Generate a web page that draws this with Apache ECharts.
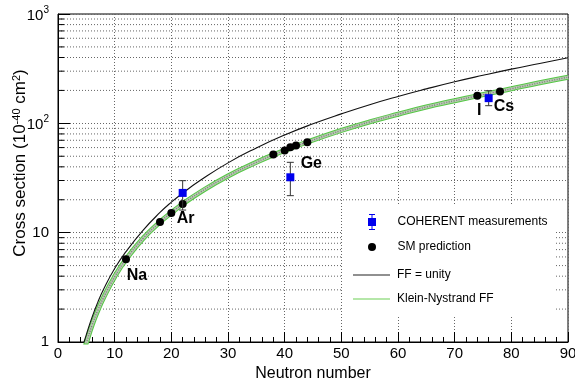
<!DOCTYPE html>
<html><head><meta charset="utf-8">
<script src="https://cdn.jsdelivr.net/npm/echarts@6/dist/echarts.min.js"></script>
<style>html,body{margin:0;padding:0;background:#fff}#c{width:575px;height:381px}</style>
</head><body><div id="c"></div>
<script>
// ---- data ----
const unityN     = [4.4, 4.6, 5, 6, 7, 8, 10, 12, 15, 18, 20, 22, 25, 30, 35, 40, 45, 50, 55, 60, 65, 70, 75, 80, 85, 90];
const unitySigma = [0.92, 1.0, 1.17, 1.68, 2.29, 3.0, 4.7, 6.7, 10.5, 15.3, 19, 23, 29.8, 43.5, 59.5, 78.2, 99, 122, 148, 176, 206.5, 240, 275, 313, 353, 398];
const knN        = [4.85, 5.05, 6, 7, 8, 10, 12, 15, 18, 20, 22, 25, 30, 35, 38, 40, 44, 50, 55, 60, 65, 70, 74, 78, 80, 85, 90];
const knSigma    = [0.92, 1.0, 1.42, 1.93, 2.52, 3.95, 5.7, 8.85, 12.5, 15.2, 18.3, 23.3, 33, 44, 51.5, 56.5, 67.5, 86, 103, 121, 141, 161, 178.5, 197, 207, 235, 264];
const smN        = [12, 18, 20, 22, 38, 40, 41, 42, 44, 74, 78];
const smSigma    = [5.7, 12.5, 15.1, 18.3, 52, 56.3, 60.3, 62.7, 67.2, 179, 196];
const smLabels   = ['Na', '', '', 'Ar', '', '', '', '', 'Ge', 'I', 'Cs'];
const cohN       = [22, 41, 76];
const cohSigma   = [23.1, 32.1, 170];
const cohLow     = [16.1, 21.8, 145];
const cohHigh    = [29.9, 44, 199];
const xRange     = [0, 90];
const xStep      = 10;
const yDecades   = [1, 10, 100, 1000];
const yDecadeLabels = ['1', '10', '{b|10}{s|2}', '{b|10}{s|3}'];
const yMinor     = [2,3,4,5,6,7,8,9,20,30,40,50,60,70,80,90,200,300,400,500,600,700,800,900];

// ---- styles ----
const FONT = '"Liberation Sans", Arial, Helvetica, sans-serif';
const labelOffsets = { Na: [11, 16], Ar: [3, 15], Ge: [4, 21], I: [2, 15], Cs: [4, 15] };

const chart = echarts.init(document.getElementById('c'), null, { renderer: 'canvas' });

const legendText = { fontFamily: FONT, fontSize: 12, color: '#000' };
const legendBase = { orient: 'vertical', padding: 0, itemWidth: 37, selectedMode: false, symbolKeepAspect: true };

const smoothOpt = { smooth: 0.5 };

const option = {
  animation: false,
  backgroundColor: '#fff',
  textStyle: { fontFamily: FONT },
  grid: { left: 58, right: 7, top: 14, bottom: 39, outerBoundsMode: 'none', containLabel: false,
          show: true, borderColor: '#000', borderWidth: 1, backgroundColor: 'transparent' },
  xAxis: {
    type: 'value', min: xRange[0], max: xRange[1], interval: xStep,
    name: 'Neutron number', nameLocation: 'middle', nameGap: 23,
    nameTextStyle: { fontFamily: FONT, fontSize: 16, color: '#000' },
    axisLine: { show: true, onZero: false, lineStyle: { color: '#000', width: 1 } },
    axisTick: { show: true, inside: true, length: 10, lineStyle: { color: '#000' } },
    minorTick: { show: true, splitNumber: 5, length: 5, lineStyle: { color: '#000' } },
    axisLabel: { fontFamily: FONT, fontSize: 15, color: '#000', margin: 4, showMinLabel: true, showMaxLabel: true },
    splitLine: { show: true, lineStyle: { color: '#666', type: [1, 2], width: 1 } }
  },
  yAxis: {
    type: 'log', min: yDecades[0], max: yDecades[yDecades.length - 1], logBase: 10,
    axisLine: { show: true, onZero: false, lineStyle: { color: '#000', width: 1 } },
    axisTick: { show: true, inside: true, length: 12, lineStyle: { color: '#000' } },
    axisLabel: {
      fontFamily: FONT, fontSize: 15, color: '#000', margin: 9, showMinLabel: true,
      formatter: function (v) { const i = yDecades.indexOf(Math.round(v)); return i >= 0 ? yDecadeLabels[i] : ''; },
      rich: {
        b: { fontFamily: FONT, fontSize: 15, color: '#000', lineHeight: 18, verticalAlign: 'bottom' },
        s: { fontFamily: FONT, fontSize: 10, color: '#000', lineHeight: 18, verticalAlign: 'top', padding: [0, 0, 6, 0] }
      }
    },
    splitLine: { show: true, lineStyle: { color: '#666', type: [1, 2], width: 1 } }
  },
  legend: [
    Object.assign({}, legendBase, { left: 368, top: 214, itemHeight: 16,
      textStyle: Object.assign({ padding: [0, 0, 0, 2] }, legendText),
      data: [{ name: 'COHERENT measurements', icon: 'path://M3.5,0H4.5V16H3.5Z M1,0H7V1H1Z M1,15H7V16H1Z M0,4H8V12H0Z' }] }),
    Object.assign({}, legendBase, { left: 368, top: 241, itemHeight: 8,
      textStyle: Object.assign({ padding: [0, 0, 0, 2] }, legendText),
      data: [{ name: 'SM prediction', icon: 'circle' }] }),
    Object.assign({}, legendBase, { left: 353, top: 269, itemHeight: 1.2,
      textStyle: Object.assign({ padding: [0, 0, 0, 2] }, legendText),
      data: [{ name: 'FF = unity', icon: 'rect', itemStyle: { color: '#222' } }] }),
    Object.assign({}, legendBase, { left: 353, top: 293, itemHeight: 1.2,
      textStyle: Object.assign({ padding: [0, 0, 0, 2] }, legendText),
      data: [{ name: 'Klein-Nystrand FF', icon: 'rect', itemStyle: { color: '#6ccf55' } }] })
  ],
  graphic: [
    { type: 'rect', z: 1, shape: { x: 343, y: 205, width: 213, height: 111 }, style: { fill: '#fff' }, silent: true },
    { type: 'text', z: 5, x: 20, y: 163, rotation: Math.PI / 2,
      style: {
        text: 'Cross section (10{s|-40} cm{s|2})',
        font: '17px ' + FONT, fill: '#000', align: 'center', verticalAlign: 'middle',
        rich: { s: { fontFamily: FONT, fontSize: 11, fill: '#000', verticalAlign: 'top', padding: [0, 0, 7, 0] } }
      } }
  ],
  series: [
    { // minor horizontal grid lines and minor ticks on the log axis
      type: 'custom', name: 'grid', z: 0, silent: true, clip: false,
      data: yMinor.map(v => [xRange[0], v]),
      renderItem: function (params, api) {
        const p0 = api.coord([xRange[0], api.value(1)]);
        const p1 = api.coord([xRange[1], api.value(1)]);
        return { type: 'group', children: [
          { type: 'line', shape: { x1: p0[0], y1: p0[1], x2: p1[0], y2: p1[1] }, style: { stroke: '#666', lineWidth: 1, lineDash: [1, 2] } },
          { type: 'line', shape: { x1: p0[0], y1: p0[1], x2: p0[0] + 6, y2: p0[1] }, style: { stroke: '#000', lineWidth: 1 } }
        ] };
      }
    },
    Object.assign({
      type: 'line', name: 'Klein-Nystrand FF', z: 2, showSymbol: false, symbol: 'none',
      data: knN.map((n, i) => [n, knSigma[i]]),
      lineStyle: { color: '#55c845', width: 5 }, itemStyle: { color: '#6ccf55' }
    }, smoothOpt),
    Object.assign({
      type: 'line', name: 'kn-band', z: 2, showSymbol: false, symbol: 'none', silent: true,
      data: knN.map((n, i) => [n, knSigma[i]]),
      lineStyle: { color: '#b8c9b2', width: 3 }
    }, smoothOpt),
    Object.assign({
      type: 'line', name: 'kn-stipple', z: 2, showSymbol: false, symbol: 'none', silent: true,
      data: knN.map((n, i) => [n, knSigma[i]]),
      lineStyle: { color: '#7d857a', width: 1.5, type: [1, 1.5] }
    }, smoothOpt),
    Object.assign({
      type: 'line', name: 'FF = unity', z: 3, showSymbol: false, symbol: 'none',
      data: unityN.map((n, i) => [n, unitySigma[i]]),
      lineStyle: { color: '#111', width: 1.1 }, itemStyle: { color: '#222' }
    }, smoothOpt),
    {
      type: 'scatter', name: 'SM prediction', z: 4, symbol: 'circle', symbolSize: 8,
      itemStyle: { color: '#000', opacity: 1 },
      data: smN.map((n, i) => ({
        value: [n, smSigma[i]],
        label: smLabels[i] ? {
          show: true, position: 'inside', formatter: smLabels[i], offset: labelOffsets[smLabels[i]],
          fontFamily: FONT, fontSize: 16, fontWeight: 'bold', color: '#000'
        } : { show: false }
      }))
    },
    {
      type: 'custom', name: 'COHERENT measurements', z: 5, clip: false,
      data: cohN.map((n, i) => [n, cohLow[i], cohHigh[i]]),
      itemStyle: { color: '#0000ee', opacity: 1 },
      renderItem: function (params, api) {
        const lo = api.coord([api.value(0), api.value(1)]);
        const hi = api.coord([api.value(0), api.value(2)]);
        const st = { stroke: '#333', lineWidth: 1 };
        return { type: 'group', children: [
          { type: 'line', shape: { x1: lo[0], y1: lo[1], x2: hi[0], y2: hi[1] }, style: st },
          { type: 'line', shape: { x1: lo[0] - 3.5, y1: lo[1], x2: lo[0] + 3.5, y2: lo[1] }, style: st },
          { type: 'line', shape: { x1: hi[0] - 3.5, y1: hi[1], x2: hi[0] + 3.5, y2: hi[1] }, style: st }
        ] };
      }
    },
    {
      type: 'scatter', name: 'COHERENT measurements', z: 6, symbol: 'rect', symbolSize: 8,
      itemStyle: { color: '#0000ee', opacity: 1 },
      data: cohN.map((n, i) => [n, cohSigma[i]])
    }
  ]
};
chart.setOption(option);
</script>
</body></html>
